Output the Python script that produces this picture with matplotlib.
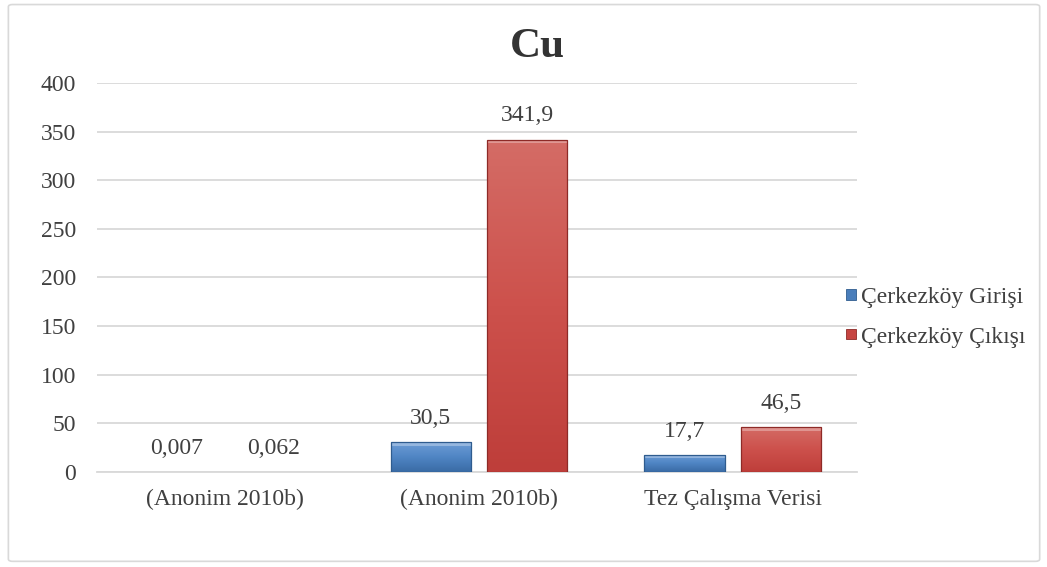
import numpy as np
import matplotlib.pyplot as plt
from matplotlib.patches import FancyBboxPatch
from matplotlib.colors import LinearSegmentedColormap

# data
categories = ['(Anonim 2010b)', '(Anonim 2010b)', 'Tez Çalışma Verisi']
giris = [0.007, 30.5, 17.7]
cikis = [0.062, 341.9, 46.5]
giris_labels = ['0,007', '30,5', '17,7']
cikis_labels = ['0,062', '341,9', '46,5']
series_names = ['Çerkezköy Girişi', 'Çerkezköy Çıkışı']
yticks = [0, 50, 100, 150, 200, 250, 300, 350, 400]

plt.rcParams['font.family'] = ['Liberation Serif', 'DejaVu Serif']

fig = plt.figure(figsize=(10.47, 5.67), dpi=100)
ax = fig.add_axes([0.0926, 0.1676, 0.7259, 0.686])

# outer frame
fig.patches.append(FancyBboxPatch((0.008, 0.01), 0.985, 0.982, boxstyle='round,pad=0,rounding_size=0.004',
                                  transform=fig.transFigure, facecolor='none', edgecolor='#D9D9D9', lw=1.2))

x = np.arange(len(categories))
w = 0.316
off = 0.19
blue, red = '#4A7EBB', '#C64541'
b1 = ax.bar(x - off, giris, w, color=blue, edgecolor='#2F5C8F', lw=0.6, label=series_names[0], zorder=3)
b2 = ax.bar(x + off, cikis, w, color=red, edgecolor='#8E2A27', lw=0.6, label=series_names[1], zorder=3)

# shading on the bars (lighter top, darker bottom)
cm_blue = LinearSegmentedColormap.from_list('b', ['#3A6BA5', '#4F85C4', '#6E9DD6'])
cm_red = LinearSegmentedColormap.from_list('r', ['#BE3E3A', '#CD514C', '#D46C66'])
grad = np.linspace(0, 1, 100).reshape(-1, 1)
for bars, cm, ec in [(b1, cm_blue, '#2F5C8F'), (b2, cm_red, '#8E2A27')]:
    for p in bars:
        x0, y0, bw, bh = p.get_x(), p.get_y(), p.get_width(), p.get_height()
        if bh < 1:
            continue
        im = ax.imshow(grad, cmap=cm, extent=(x0, x0 + bw, y0, y0 + bh), origin='lower',
                       aspect='auto', zorder=3.5)
        im.set_clip_path(p)
        # top bevel
        ax.fill_between([x0, x0 + bw], y0 + bh - min(4, bh * 0.2), y0 + bh,
                        color='white', alpha=0.3, lw=0, zorder=3.6)
        ax.bar(x0, bh, bw, bottom=y0, align='edge', fill=False, edgecolor=ec, lw=0.9, zorder=3.7)

for xi, v, t in zip(x - off, giris, giris_labels):
    ax.annotate(t, (xi, v), xytext=(0, 17), textcoords='offset points',
                ha='center', va='center', fontsize=17, color='#404040')
for xi, v, t in zip(x + off, cikis, cikis_labels):
    ax.annotate(t, (xi, v), xytext=(0, 17), textcoords='offset points',
                ha='center', va='center', fontsize=17, color='#404040')

ax.set_ylim(0, 400)
ax.set_xlim(-0.505, 2.49)
ax.set_yticks(yticks)
ax.set_xticks(x)
ax.set_xticklabels(categories)
ax.tick_params(length=0, labelsize=17, colors='#404040')
ax.tick_params(axis='x', pad=12)
ax.tick_params(axis='y', pad=15)
ax.yaxis.grid(True, color='#D9D9D9', lw=1.3, zorder=0)
for s in ['top', 'right', 'left']:
    ax.spines[s].set_visible(False)
ax.spines['bottom'].set_color('#D9D9D9')
ax.spines['bottom'].set_linewidth(1.3)

fig.text(0.513, 0.917, 'Cu', ha='center', va='center', fontsize=31, fontweight='bold', color='#333333')

ax.legend(loc='center left', bbox_to_anchor=(0.985, 0.398), frameon=False, fontsize=17,
          handlelength=0.45, handleheight=0.32, handletextpad=0.2, labelspacing=0.8,
          borderaxespad=0, borderpad=0, labelcolor='#404040')

fig.savefig('out.png', dpi=100)
